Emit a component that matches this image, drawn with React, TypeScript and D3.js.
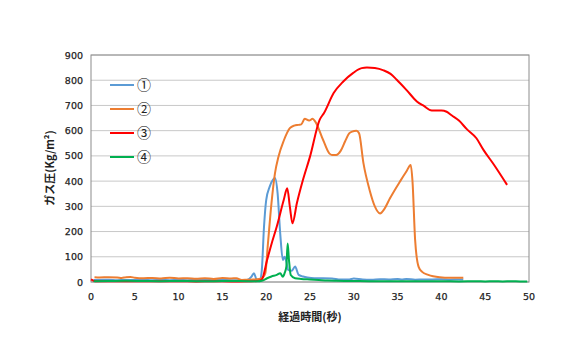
import React from "react";
import * as d3 from "d3";

const xTicks = [0, 5, 10, 15, 20, 25, 30, 35, 40, 45, 50];
const yTicks = [0, 100, 200, 300, 400, 500, 600, 700, 800, 900];
const seriesNames = ["①", "②", "③", "④"];
const seriesColors = ["#5b9bd5", "#ed7d31", "#ff0000", "#00b050"];

const s1x = [0.3,1,2,3,4,5,6,7,8,9,10,11,12,13,14,15,16,17,17.8,18.3,18.6,18.9,19.3,19.5,19.75,20.0,20.4,20.8,21.0,21.3,21.6,21.9,22.1,22.3,22.5,22.9,23.3,23.7,24.2,24.7,25.5,26.5,27.5,28.5,29.5,30,31,32,33,34,35,35.5,36,37,38,39,40,41,42,42.5];
const s1y = [8,8,9,7,8,8,9,7,8,7,8,7,8,8,7,8,7,7,8,20,35,10,8,48,219,325,378,407,412,352,193,87,100,80,48,45,61,28,22,18,15,15,14,10,10,14,10,9,11,10,12,10,12,9,10,10,11,9,10,10];

const s2x = [0.4,1,2,3,3.5,4,4.5,5,6,7,8,9,10,11,12,13,14,15,16,16.6,17.2,17.8,18.5,19.2,19.6,19.9,20.2,20.6,21.0,21.4,22.0,22.7,23.2,23.7,24.0,24.4,24.9,25.3,25.6,26.5,27.2,27.5,28.0,28.5,29.0,29.5,29.8,30.3,30.6,31.1,31.8,32.4,33.0,33.5,34.1,35.3,36.0,36.5,36.7,37.0,37.4,37.8,38.5,39.8,41,42.5];
const s2y = [19,18,19,18,16,19,20,17,15,16,14,17,14,15,13,15,12,16,14,15,8,9,10,12,18,35,153,312,431,497,560,610,620,623,625,647,640,647,636,563,510,504,504,520,557,590,596,600,590,471,365,300,272,290,330,400,438,464,400,167,60,40,28,19,17,17];

const s3x = [0,0.5,2,4,6,8,10,12,14,16,18,19,19.5,20.1,20.6,21.2,22.0,22.4,22.7,23.0,23.5,24.2,25.0,26.1,26.6,27.7,28.8,29.9,30.9,31.5,32.4,33.4,34.2,34.9,36.0,37.2,38.0,38.9,40.0,40.6,41.2,42.0,42.9,44.0,44.8,46.0,47.5];
const s3y = [10,3,3,3,3,3,3,2,3,2,3,4,10,87,150,219,325,372,299,233,312,405,497,643,670,749,795,828,848,850,848,839,825,802,762,716,698,680,680,675,660,640,606,570,524,465,385];

const s4x = [0.3,2,4,6,8,10,12,14,16,18,19,19.5,20.1,20.6,21.2,21.6,21.9,22.1,22.3,22.45,22.6,22.8,23.3,24,25,26,27,28,30,32,35,38,40,42,44,45,46,47,48,49,49.8];
const s4y = [3,4,5,4,3,4,3,3,4,3,3,5,15,22,28,35,21,35,61,153,87,28,15,12,10,8,6,5,4,3,3,3,3,2,3,2,3,2,3,2,2];

const seriesX = [s1x, s2x, s3x, s4x];
const seriesY = [s1y, s2y, s3y, s4y];

export default function App() {
  const W = 580, H = 360;
  const left = 91, right = 529, top = 55, bottom = 282;
  const x = d3.scaleLinear().domain([0, 50]).range([left, right]);
  const y = d3.scaleLinear().domain([0, 900]).range([bottom, top]);
  const line = d3.line<[number, number]>().x(d => x(d[0])).y(d => y(d[1])).curve(d3.curveMonotoneX);
  const font = "'DejaVu Sans', Verdana, sans-serif";
  const jp = "'Noto Sans CJK JP', sans-serif";
  return (
    <svg width={W} height={H} style={{ position: "absolute", left: 0, top: 0, background: "#fff" }}>
      {yTicks.map(t => (
        <line key={"g" + t} x1={left} x2={right} y1={y(t)} y2={y(t)} stroke="#c8c8c8" strokeWidth={1} />
      ))}
      <rect x={left} y={top} width={right - left} height={bottom - top} fill="none" stroke="#8c8c8c" strokeWidth={1} />
      {yTicks.map(t => (
        <text key={"y" + t} x={83} y={y(t) + 3.5} textAnchor="end" fontFamily={font} fontSize={9.5} fill="#222" stroke="#222" strokeWidth={0.25}>{t}</text>
      ))}
      {xTicks.map(t => (
        <text key={"x" + t} x={x(t)} y={300} textAnchor="middle" fontFamily={font} fontSize={9.5} fill="#222" stroke="#222" strokeWidth={0.25}>{t}</text>
      ))}
      {seriesX.map((xs, i) => (
        <path key={"s" + i} d={line(xs.map((v, j) => [v, seriesY[i][j]] as [number, number])) || ""} fill="none" stroke={seriesColors[i]} strokeWidth={2} strokeLinejoin="round" />
      ))}
      {seriesNames.map((n, i) => (
        <g key={"l" + i}>
          <line x1={110} x2={134} y1={85 + i * 24} y2={85 + i * 24} stroke={seriesColors[i]} strokeWidth={2} />
          <text x={137} y={90 + i * 24} fontFamily={jp} fontSize={14} fill="#222">{n}</text>
        </g>
      ))}
      <text transform={`translate(54,168) rotate(-90)`} textAnchor="middle" fontFamily={jp} fontSize={11} fontWeight="bold" fill="#222">ガス圧(Kg/m²)</text>
      <text x={310} y={321} textAnchor="middle" fontFamily={jp} fontSize={11} fontWeight="bold" fill="#222">経過時間(秒)</text>
    </svg>
  );
}
